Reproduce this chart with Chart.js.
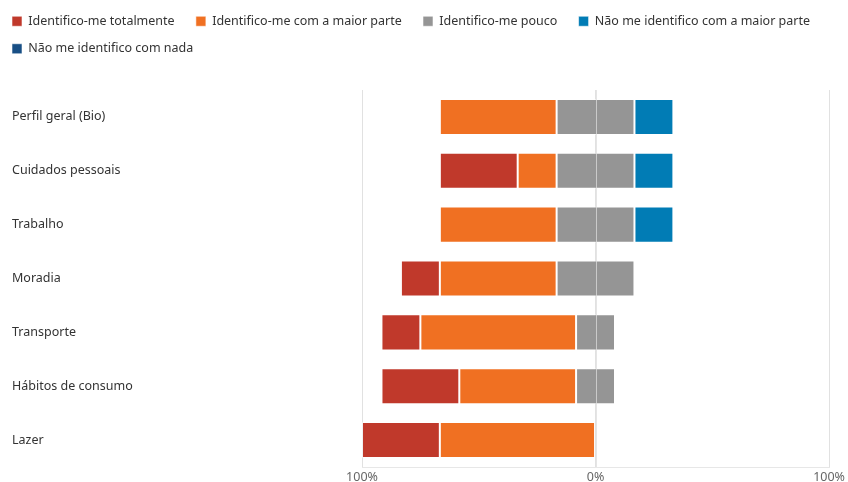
<!DOCTYPE html>
<html>
<head>
<meta charset="utf-8">
<script src="https://cdn.jsdelivr.net/npm/chart.js@4"></script>
<style>
  html, body { margin: 0; padding: 0; background: #ffffff; }
  #wrap { width: 848px; height: 482px; }
</style>
</head>
<body>
<div id="wrap"><canvas id="chart" width="848" height="482"></canvas></div>
<script>
// Survey topics (one bar each)
const categories = ['Perfil geral (Bio)', 'Cuidados pessoais', 'Trabalho', 'Moradia', 'Transporte', 'Hábitos de consumo', 'Lazer'];

// Share of answers per topic, in percent
const totalmente   = [0, 33.33, 0, 16.67, 16.67, 33.33, 33.33];
const maiorParte   = [50, 16.67, 50, 50, 66.67, 50, 66.67];
const pouco        = [33.33, 33.33, 33.33, 33.33, 16.67, 16.67, 0];
const naoMaior     = [16.67, 16.67, 16.67, 0, 0, 0, 0];
const naoNada      = [0, 0, 0, 0, 0, 0, 0];

const seriesNames = ['Identifico-me totalmente', 'Identifico-me com a maior parte', 'Identifico-me pouco', 'Não me identifico com a maior parte', 'Não me identifico com nada'];
const seriesColors = ['#C0392B', '#F07022', '#959595', '#017CB5', '#184F85'];

// Axis tick values (shown as absolute percentages)
const tickValues = [-100, 0, 100];

// Diverging layout: the middle answer is centred on zero,
// agreement extends left, disagreement extends right.
const series = [totalmente, maiorParte, pouco, naoMaior, naoNada];
const floating = series.map(() => []);
categories.forEach((_, i) => {
  let s = -(totalmente[i] + maiorParte[i] + pouco[i] / 2);
  series.forEach((arr, k) => {
    const v = arr[i];
    floating[k].push(v > 0 ? [s, s + v] : null);
    s += v;
  });
});

const FONT = '"Segoe UI", "Noto Sans", "Open Sans", sans-serif';
const FONT_SIZE = 12.5;

// Legend spans the full width, flush with the category labels,
// with extra room between it and the plot
const legendSpacing = {
  id: 'legendSpacing',
  beforeInit(chart) {
    const fit = chart.legend.fit;
    chart.legend.fit = function () {
      this.maxWidth += 20;
      fit.call(this);
      this.height += 25;
    };
  },
  afterLayout(chart) {
    chart.legend.left = -3;
    chart.legend.right = 848;
  }
};

// Thin zero line drawn over the bars
const zeroLine = {
  id: 'zeroLine',
  afterDatasetsDraw(chart) {
    const { ctx, chartArea, scales } = chart;
    const x = Math.round(scales.x.getPixelForValue(0)) + 0.5;
    ctx.save();
    ctx.strokeStyle = 'rgba(220,220,220,0.75)';
    ctx.lineWidth = 1;
    ctx.beginPath();
    ctx.moveTo(x, chartArea.top);
    ctx.lineTo(x, chartArea.bottom);
    ctx.stroke();
    ctx.restore();
  }
};

new Chart(document.getElementById('chart'), {
  type: 'bar',
  data: {
    labels: categories,
    datasets: seriesNames.map((name, k) => ({
      label: name,
      data: floating[k],
      backgroundColor: seriesColors[k],
      borderColor: 'rgba(255,255,255,0.55)',
      borderWidth: 1,
      borderSkipped: false,
      grouped: false,
      barPercentage: 0.67,
      categoryPercentage: 1.0
    }))
  },
  plugins: [legendSpacing, zeroLine],
  options: {
    indexAxis: 'y',
    responsive: false,
    animation: false,
    layout: { padding: { left: 12, right: 18, top: 0, bottom: -6 } },
    plugins: {
      legend: {
        position: 'top',
        align: 'start',
        labels: {
          boxWidth: 10,
          boxHeight: 10,
          padding: 15,
          color: '#333333',
          font: { family: FONT, size: FONT_SIZE },
          // a little wider gap between entries on the same row
          generateLabels(chart) {
            return Chart.defaults.plugins.legend.labels.generateLabels(chart)
              .map(item => Object.assign(item, { text: item.text + '\u2002' }));
          }
        }
      },
      tooltip: { enabled: false }
    },
    scales: {
      x: {
        min: -100,
        max: 100,
        afterBuildTicks: (scale) => { scale.ticks = tickValues.map(v => ({ value: v })); },
        ticks: {
          color: '#666666',
          font: { family: FONT, size: FONT_SIZE },
          padding: 3,
          callback: (v) => Math.abs(v) + '%'
        },
        grid: {
          color: 'rgba(215,215,215,0.75)',
          drawTicks: false
        },
        border: { display: true, color: 'rgba(225,225,225,0.8)' }
      },
      y: {
        grid: { display: false },
        border: { display: false },
        afterFit: (scale) => { scale.width = 350; },
        ticks: {
          crossAlign: 'far',
          color: '#333333',
          font: { family: FONT, size: FONT_SIZE },
          padding: 0
        }
      }
    }
  }
});
</script>
</body>
</html>
